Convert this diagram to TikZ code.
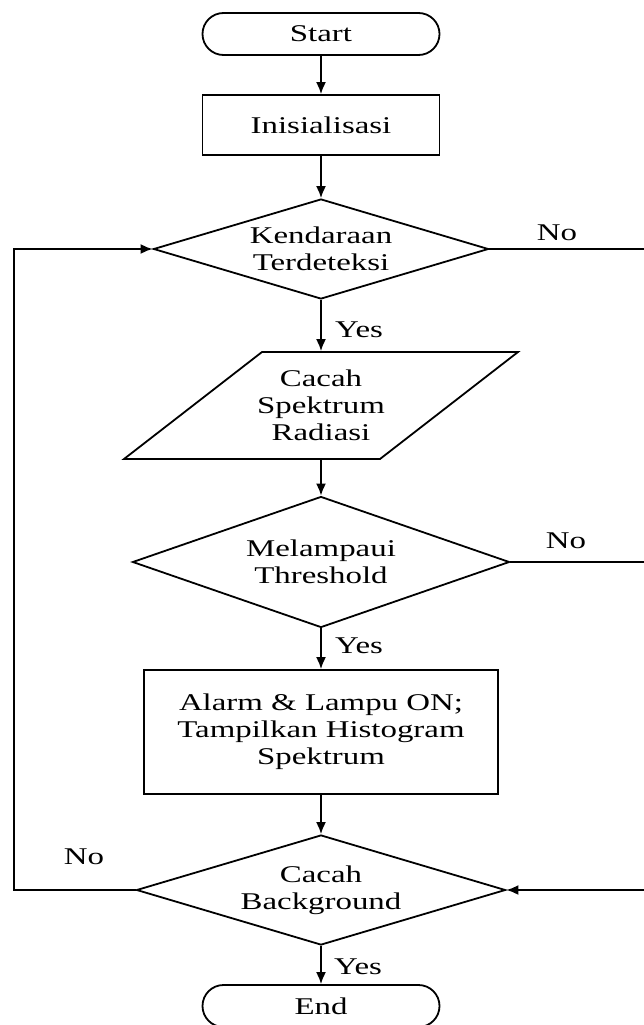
\documentclass[tikz,border=0pt]{standalone}
\usepackage{fontspec}
\setmainfont{Liberation Serif}[FakeStretch=1.37]
\usetikzlibrary{shapes.geometric,shapes.misc,arrows.meta}

\begin{document}
\begin{tikzpicture}[x=1pt,y=-1pt,line width=1.8pt,
    every node/.style={font=\fontsize{24}{27}\selectfont},
    terminal/.style={draw, rounded rectangle, minimum width=237pt, minimum height=42pt, inner sep=0pt},
    process/.style={draw, rectangle, align=center, inner sep=0pt},
    decision/.style={draw, diamond, align=center, inner sep=0pt},
    iobox/.style={rectangle, align=center, inner sep=0pt, minimum width=256pt, minimum height=107pt},
    flow/.style={-{Latex[length=12pt,width=10pt]}}]
    \useasboundingbox (0,0) rectangle (644,1025);

    % Draw blocks
    \node[terminal] (start) at (321,34) {Start};
    \node[process, minimum width=237pt, minimum height=60pt] (init) at (321,125) {Inisialisasi};
    \node[decision, aspect=3.35, minimum width=335pt, minimum height=100pt] (detect) at (321,249) {Kendaraan\\Terdeteksi};
    \node[iobox] (count) at (321,405.5) {Cacah\\Spektrum\\Radiasi};
    \draw[shift={(count.center)}] (-59,-53.5) -- (197,-53.5) -- (59,53.5) -- (-197,53.5) -- cycle;
    \node[decision, aspect=2.9, minimum width=377pt, minimum height=131pt] (thresh) at (321,562) {Melampaui\\Threshold};
    \node[process, minimum width=354pt, minimum height=124pt] (alarm) at (321,732) {Alarm \& Lampu ON;\\Tampilkan Histogram\\Spektrum};
    \node[decision, aspect=3.35, minimum width=369pt, minimum height=110pt] (bg) at (321,890) {Cacah\\Background};
    \node[terminal] (end) at (321,1006) {End};

    % Draw main flow
    \draw[flow] (start) -- (init);
    \draw[flow] (init) -- (detect);
    \draw[flow] (detect) -- (count);
    \draw[flow] (count) -- (thresh);
    \draw[flow] (thresh) -- (alarm);
    \draw[flow] (alarm) -- (bg);
    \draw[flow] (bg) -- (end);

    % Draw loops
    \coordinate (rtop) at (646,249);
    \coordinate (rbot) at (646,890);
    \coordinate (ltop) at (14,249);
    \coordinate (lbot) at (14,890);
    \draw (detect.east) -- (rtop) -- (rbot);
    \draw (thresh.east) -- (thresh.east -| rtop);
    \draw[flow] (rbot) -- (bg.east);
    \draw[flow] (bg.west) -- (lbot) -- (ltop) -- (detect.west);

    % Draw labels
    \node (yes1) at (359,330) {Yes};
    \node (yes2) at (359,646) {Yes};
    \node (yes3) at (358,967) {Yes};
    \node (no1) at (557,233) {No};
    \node (no2) at (566,541) {No};
    \node (no3) at (84,857) {No};
\end{tikzpicture}
\end{document}
